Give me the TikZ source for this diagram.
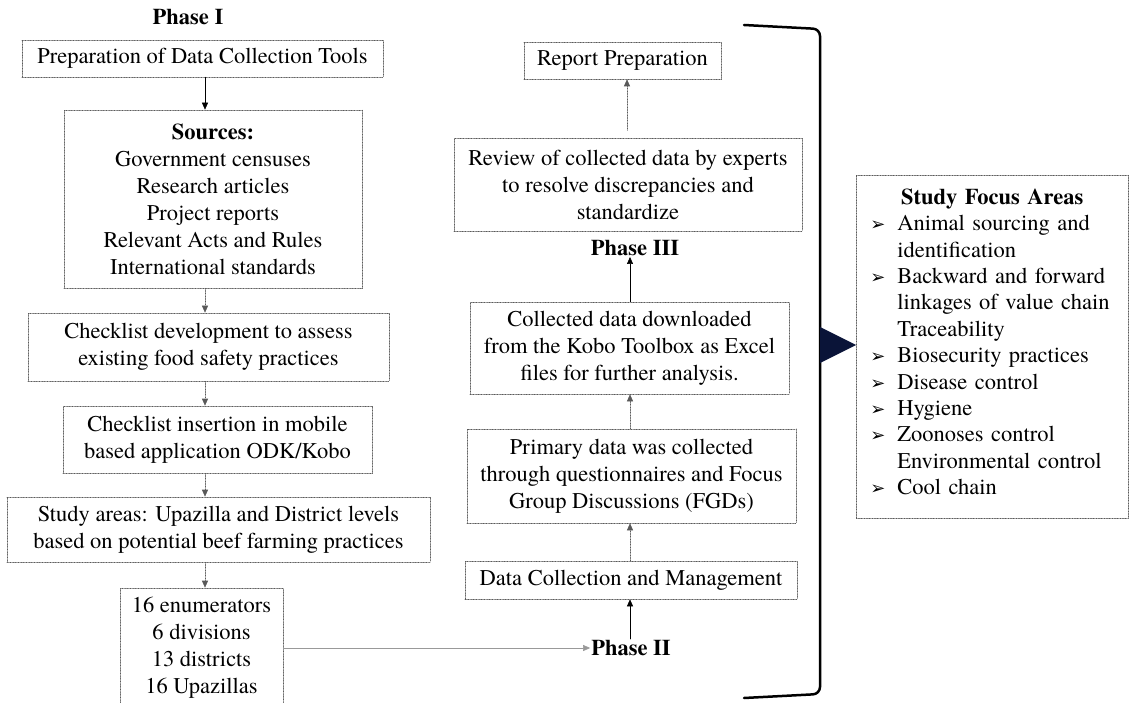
\documentclass[tikz,border=0pt]{standalone}
\usepackage{fontspec}
\setmainfont{texgyretermes}[Extension=.otf,UprightFont=*-regular,BoldFont=*-bold,ItalicFont=*-italic,BoldItalicFont=*-bolditalic]
\newfontfamily\symfont{DejaVu Sans}
\usetikzlibrary{arrows.meta}
\definecolor{dotgray}{rgb}{0.35,0.35,0.35}
\definecolor{linegray}{rgb}{0.6,0.6,0.6}
\definecolor{navyblk}{rgb}{0.04,0.08,0.22}
\newcommand{\focusbullet}{\makebox[27pt][l]{\symfont\fontsize{18}{18}\selectfont ➢}}
\newcommand{\focusindent}{\hspace*{27pt}}
\tikzset{
  box/.style={draw=dotgray,densely dotted,line width=0.6pt,align=center,inner sep=2pt,font=\fontsize{22.5}{27}\selectfont},
  phase/.style={font=\bfseries\fontsize{22.5}{27}\selectfont,inner sep=1pt},
  solidarrow/.style={-{Triangle[width=6pt,length=7pt]},line width=0.6pt,black},
  dotarrow/.style={-{Triangle[width=6pt,length=7pt]},line width=0.6pt,dotgray,densely dotted},
  focusbox/.style={draw=dotgray,densely dotted,line width=0.6pt,align=left,anchor=north west,text width=244pt,inner xsep=14pt,inner ysep=4pt,minimum height=343pt,font=\fontsize{22.5}{26.4}\selectfont}
}
\begin{document}
\begin{tikzpicture}[line cap=round,line join=round,x=1pt,y=-1pt]
\useasboundingbox (0,0) rectangle (1130,703);
\coordinate (axisL) at (205,0);
\coordinate (axisR) at (630,0);
\node[phase] (phaseI) at (188,17) {Phase I};
\node[box,minimum width=361pt,minimum height=37pt] (prep) at (202.5,58.5) {Preparation of Data Collection Tools};
\node[box,minimum width=298pt,minimum height=178pt] (src) at (213,199) {\textbf{Sources:}\\Government censuses\\Research articles\\Project reports\\Relevant Acts and Rules\\International standards};
\node[box,minimum width=361pt,minimum height=68pt] (chkdev) at (208.5,347) {Checklist development to assess\\existing food safety practices};
\node[box,minimum width=309pt,minimum height=67pt] (ins) at (217.5,439.5) {Checklist insertion in mobile\\based application ODK/Kobo};
\node[box,minimum width=423pt,minimum height=65pt] (study) at (218.5,529.5) {Study areas: Upazilla and District levels\\based on potential beef farming practices};
\node[box,minimum width=163pt,minimum height=120pt] (enum) at (201.5,648) {16 enumerators\\6 divisions\\13 districts\\16 Upazillas};
\node[phase] (phaseII) at (631,648) {Phase II};
\node[box,minimum width=332pt,minimum height=38pt] (dcm) at (631,580) {Data Collection and Management};
\node[box,minimum width=329pt,minimum height=94pt] (prim) at (631.5,476) {Primary data was collected\\through questionnaires and Focus\\Group Discussions (FGDs)};
\node[box,minimum width=319pt,minimum height=92pt] (coll) at (629.5,348) {Collected data downloaded\\from the Kobo Toolbox as Excel\\files for further analysis.};
\node[phase] (phaseIII) at (635,248) {Phase III};
\node[box,minimum width=348pt,minimum height=93pt] (rev) at (628,184.5) {Review of collected data by experts\\to resolve discrepancies and\\standardize};
\node[box,minimum width=197pt,minimum height=37pt] (rep) at (622.5,60.5) {Report Preparation};
\node[focusbox] (focus) at (856,175) {\makebox[\hsize][c]{\textbf{Study Focus Areas}}\\
\focusbullet Animal sourcing and\\
\focusindent identification\\
\focusbullet Backward and forward\\
\focusindent linkages of value chain\\
\focusindent Traceability\\
\focusbullet Biosecurity practices\\
\focusbullet Disease control\\
\focusbullet Hygiene\\
\focusbullet Zoonoses control\\
\focusindent Environmental control\\
\focusbullet Cool chain\vspace{10pt}};
\draw[solidarrow] (axisL |- prep.south) -- (axisL |- src.north);
\draw[dotarrow] (axisL |- src.south) -- (axisL |- chkdev.north);
\draw[dotarrow] (axisL |- chkdev.south) -- (axisL |- ins.north);
\draw[dotarrow] (axisL |- ins.south) -- (axisL |- study.north);
\draw[dotarrow] (axisL |- study.south) -- (axisL |- enum.north);
\draw[-{Triangle[width=6pt,length=7pt]},line width=0.6pt,linegray] (enum.east |- phaseII.west) -- (phaseII.west);
\draw[solidarrow] (axisR |- phaseII.north) -- (axisR |- dcm.south);
\draw[dotarrow] (axisR |- dcm.north) -- (axisR |- prim.south);
\draw[dotarrow] (axisR |- prim.north) -- (axisR |- coll.south);
\draw[solidarrow] (axisR |- coll.north) -- (axisR |- phaseIII.south);
\draw[dotarrow] (rep.south -| 627,0) ++(0,51) -- (rep.south -| 627,0);
\draw[line width=2.5pt,rounded corners=7pt] (744,25) -- (820,29) -- (820,694) -- (744,698);
\fill[navyblk] (820,327) -- (856,345) -- (820,363) -- cycle;
\end{tikzpicture}
\end{document}
